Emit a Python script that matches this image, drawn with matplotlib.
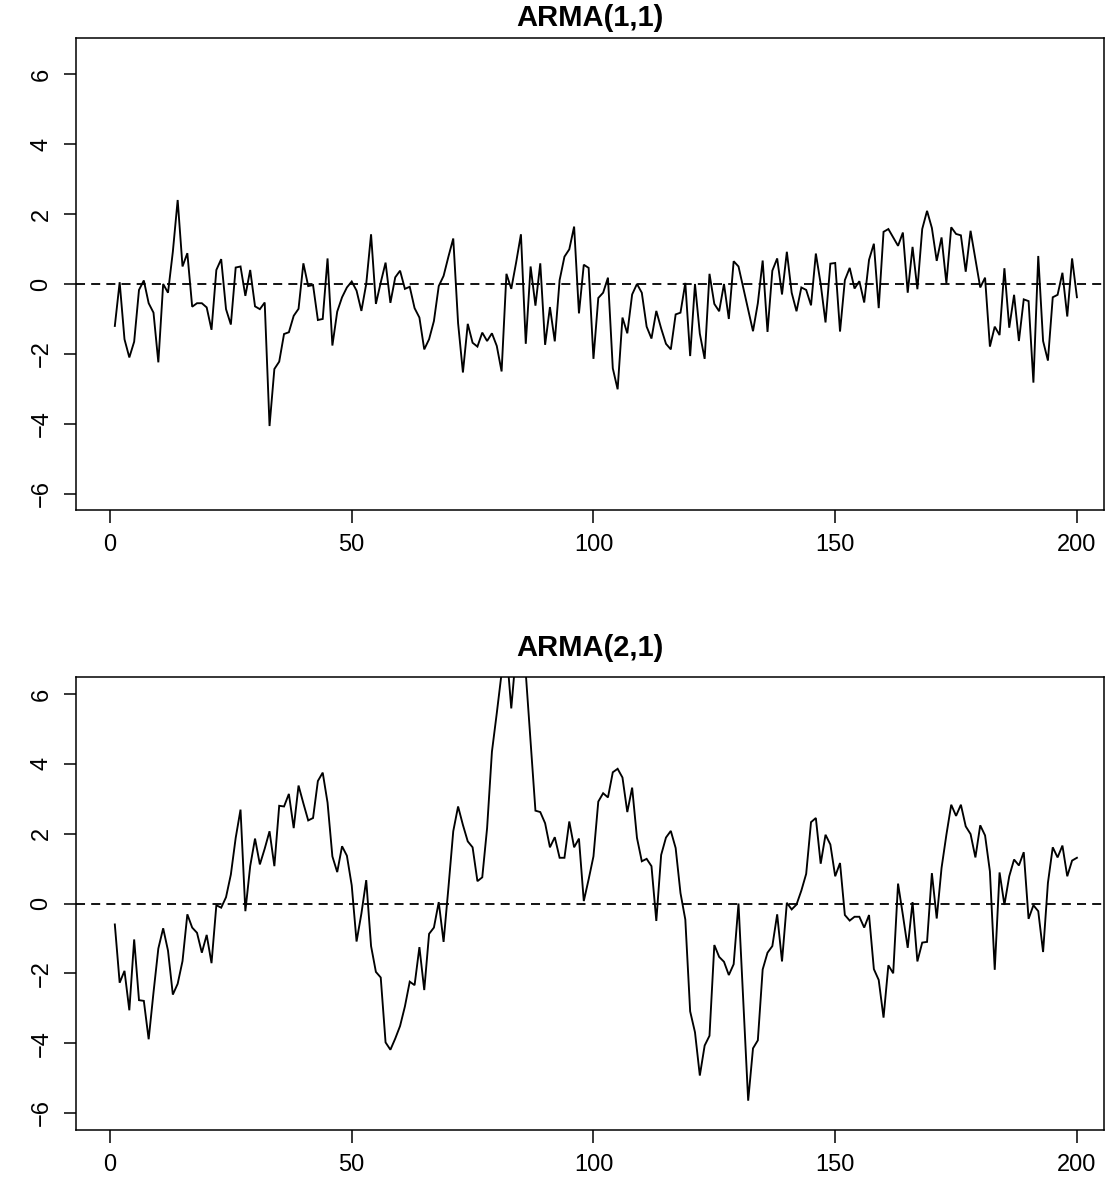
import matplotlib
matplotlib.use("Agg")
import matplotlib.pyplot as plt
import numpy as np

plt.rcParams['font.family'] = ['Liberation Sans', 'DejaVu Sans']

titles = ["ARMA(1,1)", "ARMA(2,1)"]
x_ticks = [0, 50, 100, 150, 200]
y_ticks = [-6, -4, -2, 0, 2, 4, 6]

arma11 = [
    -1.2, 0.05, -1.58, -2.1, -1.65, -0.17, 0.1, -0.55, -0.82, -2.24,
    0.0, -0.25, 0.92, 2.4, 0.5, 0.88, -0.65, -0.55, -0.55, -0.67,
    -1.31, 0.4, 0.71, -0.72, -1.16, 0.47, 0.5, -0.34, 0.4, -0.64,
    -0.72, -0.53, -4.06, -2.43,
    -2.22, -1.43, -1.38, -0.91, -0.71, 0.59, -0.06, -0.03, -1.03, -1.0,
    0.73, -1.76, -0.79, -0.38, -0.1, 0.07, -0.19, -0.77, 0.0, 1.42,
    -0.57, 0.04, 0.61, -0.54, 0.19, 0.38, -0.14, -0.08, -0.69, -0.96,
    -1.87, -1.58, -1.06, -0.06,
    0.23, 0.78, 1.3, -1.12, -2.53, -1.14, -1.68, -1.79, -1.39, -1.63,
    -1.41, -1.77, -2.5, 0.29, -0.14, 0.61, 1.42, -1.71, 0.5, -0.62,
    0.59, -1.74, -0.66, -1.64, 0.11, 0.78, 0.99, 1.64, -0.84, 0.55,
    0.46, -2.14, -0.4, -0.25,
    0.18, -2.41, -3.01, -0.96, -1.41, -0.3, 0.0, -0.25, -1.22, -1.56,
    -0.77, -1.27, -1.71, -1.87, -0.87, -0.82, 0.03, -2.06, 0.0, -1.42,
    -2.14, 0.29, -0.57, -0.78, 0.0, -1.0, 0.65, 0.5, -0.12, -0.74,
    -1.35, -0.55, 0.67, -1.37,
    0.38, 0.73, -0.3, 0.92, -0.25, -0.78, -0.1, -0.17, -0.61, 0.87,
    0.0, -1.1, 0.58, 0.6, -1.36, 0.11, 0.46, -0.13, 0.08, -0.53,
    0.69, 1.15, -0.69, 1.49, 1.57, 1.33, 1.09, 1.47, -0.25, 1.06,
    -0.15, 1.57, 2.09,
    1.6, 0.66, 1.33, 0.02, 1.62, 1.43, 1.39, 0.35, 1.52, 0.71,
    -0.1, 0.18, -1.79, -1.22, -1.46, 0.45, -1.25, -0.31, -1.63, -0.44,
    -0.49, -2.82, 0.8, -1.63, -2.19, -0.38, -0.31, 0.32, -0.93, 0.73, -0.38,
]

arma21 = [
    -0.6, -2.27, -1.93, -3.06, -1.03, -2.77, -2.79, -3.89, -2.55, -1.29,
    -0.71, -1.35, -2.61, -2.3, -1.65, -0.31, -0.69, -0.84, -1.41, -0.9,
    -1.71, -0.05, -0.12, 0.18, 0.83, 1.88, 2.69, -0.22, 1.07, 1.86,
    1.12, 1.57, 2.07, 1.07,
    2.8, 2.78, 3.14, 2.16, 3.38, 2.87, 2.38, 2.45, 3.51, 3.75,
    2.89, 1.35, 0.9, 1.64, 1.37, 0.52, -1.09, -0.29, 0.67, -1.22,
    -1.96, -2.12, -3.98, -4.19, -3.87, -3.51, -2.95, -2.24, -2.34, -1.25,
    -2.48, -0.87, -0.69, 0.04,
    -1.1, 0.45, 2.07, 2.78, 2.25, 1.78, 1.61, 0.64, 0.75, 2.16,
    4.35, 5.45, 6.6, 7.3, 5.59, 7.2, 7.5, 6.6, 4.64, 2.66,
    2.62, 2.3, 1.61, 1.9, 1.31, 1.31, 2.35, 1.61, 1.86, 0.07,
    0.69, 1.35, 2.92, 3.16,
    3.04, 3.76, 3.86, 3.61, 2.62, 3.32, 1.88, 1.21, 1.28, 1.07,
    -0.5, 1.39, 1.89, 2.08, 1.59, 0.3, -0.46, -3.09, -3.69, -4.93,
    -4.07, -3.79, -1.19, -1.53, -1.67, -2.05, -1.74, 0.0, -2.83, -5.65,
    -4.15, -3.92, -1.89, -1.41,
    -1.22, -0.31, -1.66, 0.02, -0.17, -0.03, 0.37, 0.85, 2.33, 2.45,
    1.14, 1.97, 1.69, 0.78, 1.16, -0.33, -0.49, -0.38, -0.38, -0.69,
    -0.33, -1.88, -2.19, -3.27, -1.77, -2.0, 0.57, -0.33, -1.27, 0.04,
    -1.66, -1.12, -1.1,
    0.87, -0.43, 1.02, 1.97, 2.83, 2.51, 2.83, 2.21, 1.99, 1.32,
    2.24, 1.95, 0.92, -1.9, 0.89, -0.04, 0.78, 1.26, 1.09, 1.47,
    -0.44, -0.05, -0.22, -1.39, 0.59, 1.61, 1.32, 1.66, 0.78, 1.23, 1.31,
]

series = [arma11, arma21]

W, H = 1116, 1203
fig = plt.figure(figsize=(W / 100, H / 100), dpi=100)

# axes boxes in pixel coords (left, top, right, bottom)
boxes = [(76, 38, 1104, 510), (76, 677, 1104, 1130)]
title_y = [18, 648]
ylims = [(-6.46, 7.03), (-6.49, 6.49)]
xlim = (-7.03, 205.6)

for vals, title, box, yl, ty in zip(series, titles, boxes, ylims, title_y):
    l, t, r, b = box
    ax = fig.add_axes([l / W, 1 - b / H, (r - l) / W, (b - t) / H])
    tt = np.arange(1, len(vals) + 1)
    ax.plot(tt, vals, color='black', lw=1.35, solid_joinstyle='miter')
    ax.axhline(0, color='black', lw=1.3, linestyle=(0, (5, 3.4)))
    ax.set_xlim(*xlim)
    ax.set_ylim(*yl)
    ax.set_xticks(x_ticks)
    ax.set_yticks(y_ticks)
    ax.set_xticklabels([str(v) for v in x_ticks], fontsize=17)
    ax.set_yticklabels([str(v).replace('-', '\u2212') for v in y_ticks],
                       fontsize=17, rotation=90, va='center')
    ax.tick_params(direction='out', length=9, width=1.1, pad=8)
    for s in ax.spines.values():
        s.set_linewidth(1.1)
    fig.text((l + r) / 2 / W, 1 - ty / H, title, fontsize=21,
             fontweight='bold', ha='center', va='center')

fig.savefig('out.png', dpi=100)
